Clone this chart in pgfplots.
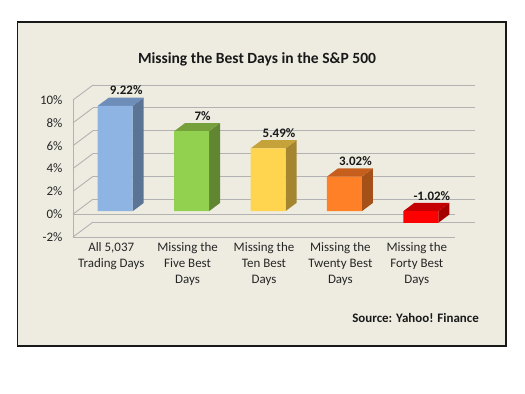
\documentclass[border=0pt]{standalone}
\usepackage{pgfplots}
\pgfplotsset{compat=1.18}
\usepackage{fontspec}
\setmainfont{Carlito}
\definecolor{bg}{RGB}{238,236,225}
\definecolor{gridc}{RGB}{178,178,178}
\definecolor{b1f}{RGB}{141,180,227}\definecolor{b1s}{RGB}{91,116,150}\definecolor{b1t}{RGB}{110,141,185}
\definecolor{b2f}{RGB}{146,208,80}\definecolor{b2s}{RGB}{96,134,50}\definecolor{b2t}{RGB}{118,160,60}
\definecolor{b3f}{RGB}{255,213,80}\definecolor{b3s}{RGB}{164,134,48}\definecolor{b3t}{RGB}{198,163,58}
\definecolor{b4f}{RGB}{255,128,38}\definecolor{b4s}{RGB}{164,80,24}\definecolor{b4t}{RGB}{198,95,30}
\definecolor{b5f}{RGB}{255,0,0}\definecolor{b5s}{RGB}{164,0,0}\definecolor{b5t}{RGB}{196,0,0}
% 3D bar: #1 category, #2 value, #3 front, #4 side, #5 top, #6 label
\newcommand{\tdbar}[6]{%
 \pgfmathsetmacro{\tdXl}{#1-0.229+0.0524}%
 \pgfmathsetmacro{\tdXr}{#1+0.229+0.0524}%
 \pgfmathsetmacro{\tdXll}{\tdXl+0.144}%
 \pgfmathsetmacro{\tdXrr}{\tdXr+0.144}%
 \pgfmathsetmacro{\tdXc}{#1+0.0524+0.144}%
 \pgfmathsetmacro{\tdYb}{min(0,#2)+0.2627}%
 \pgfmathsetmacro{\tdYt}{max(0,#2)+0.2627}%
 \pgfmathsetmacro{\tdYbb}{\tdYb+0.7224}%
 \pgfmathsetmacro{\tdYtt}{\tdYt+0.7224}%
 \addplot[fill=#4, draw=none, mark=none] coordinates {(\tdXr,\tdYb) (\tdXrr,\tdYbb) (\tdXrr,\tdYtt) (\tdXr,\tdYt) (\tdXr,\tdYb)};
 \addplot[fill=#5, draw=none, mark=none] coordinates {(\tdXl,\tdYt) (\tdXr,\tdYt) (\tdXrr,\tdYtt) (\tdXll,\tdYtt) (\tdXl,\tdYt)};
 \addplot[fill=#3, draw=none, mark=none] coordinates {(\tdXl,\tdYb) (\tdXr,\tdYb) (\tdXr,\tdYt) (\tdXl,\tdYt) (\tdXl,\tdYb)};
 \addplot[draw=none, mark=none, nodes near coords={\textbf{#6}},
   every node near coord/.append style={anchor=south, font=\fontsize{13}{15}\selectfont, text=black!90, inner sep=2.5bp}]
   coordinates {(\tdXc,\tdYtt)};
}
\begin{document}
\begin{tikzpicture}
\path[use as bounding box] (0,0) rectangle (525bp,394bp);
\draw[line width=1.8bp, draw=black!90, fill=bg] (17.5bp,48bp) rectangle (506bp,372bp);
\node[font=\fontsize{15.6}{18}\selectfont\bfseries, text=black!90] at (257bp,335bp) {Missing the Best Days in the S\&P 500};
\node[font=\fontsize{13}{15}\selectfont\bfseries, text=black!90, anchor=east, inner sep=0pt] at (479bp,76bp) {Source: Yahoo! Finance};
\begin{axis}[
  at={(73bp,157bp)}, anchor=south west,
  scale only axis, width=382bp, height=137bp,
  xmin=0.5, xmax=5.5, ymin=-2, ymax=10,
  clip=false,
  axis line style={draw=none},
  major tick length=0pt,
  ytick={-2,0,2,4,6,8,10},
  yticklabels={{-2\%},{0\%},{2\%},{4\%},{6\%},{8\%},{10\%}},
  yticklabel style={font=\fontsize{13}{15}\selectfont, text=black!85, xshift=-7bp},
  xtick={1,2,3,4,5},
  xticklabels={{All 5,037\\Trading Days},{Missing the\\Five Best\\Days},{Missing the\\Ten Best\\Days},{Missing the\\Twenty Best\\Days},{Missing the\\Forty Best\\Days}},
  xticklabel style={font=\fontsize{13}{16}\selectfont, text=black!85, align=center, yshift=-2bp},
]
% back wall gridlines
\addplot[gridc, line width=0.9bp, mark=none] coordinates {(0.7618,-0.6865) (5.7618,-0.6865)};
\addplot[gridc, line width=0.9bp, mark=none] coordinates {(0.7618,1.3135) (5.7618,1.3135)};
\addplot[gridc, line width=0.9bp, mark=none] coordinates {(0.7618,3.3135) (5.7618,3.3135)};
\addplot[gridc, line width=0.9bp, mark=none] coordinates {(0.7618,5.3135) (5.7618,5.3135)};
\addplot[gridc, line width=0.9bp, mark=none] coordinates {(0.7618,7.3135) (5.7618,7.3135)};
\addplot[gridc, line width=0.9bp, mark=none] coordinates {(0.7618,9.3135) (5.7618,9.3135)};
\addplot[gridc, line width=0.9bp, mark=none] coordinates {(0.7618,11.3135) (5.7618,11.3135)};
% side wall diagonals
\addplot[gridc, line width=0.9bp, mark=none] coordinates {(0.5,-2) (0.7618,-0.6865)};
\addplot[gridc, line width=0.9bp, mark=none] coordinates {(0.5,0) (0.7618,1.3135)};
\addplot[gridc, line width=0.9bp, mark=none] coordinates {(0.5,2) (0.7618,3.3135)};
\addplot[gridc, line width=0.9bp, mark=none] coordinates {(0.5,4) (0.7618,5.3135)};
\addplot[gridc, line width=0.9bp, mark=none] coordinates {(0.5,6) (0.7618,7.3135)};
\addplot[gridc, line width=0.9bp, mark=none] coordinates {(0.5,8) (0.7618,9.3135)};
\addplot[gridc, line width=0.9bp, mark=none] coordinates {(0.5,10) (0.7618,11.3135)};
% front edges
\addplot[gridc, line width=0.9bp, mark=none] coordinates {(0.5,-2) (0.5,10)};
\addplot[gridc, line width=0.9bp, mark=none] coordinates {(0.5,-2) (5.5,-2)};
\addplot[gridc, line width=0.9bp, mark=none] coordinates {(0.5,0) (5.5,0)};
% bars
\tdbar{1}{9.22}{b1f}{b1s}{b1t}{9.22\%}
\tdbar{2}{7}{b2f}{b2s}{b2t}{7\%}
\tdbar{3}{5.49}{b3f}{b3s}{b3t}{5.49\%}
\tdbar{4}{3.02}{b4f}{b4s}{b4t}{3.02\%}
\tdbar{5}{-1.02}{b5f}{b5s}{b5t}{-1.02\%}
\end{axis}
\end{tikzpicture}
\end{document}
